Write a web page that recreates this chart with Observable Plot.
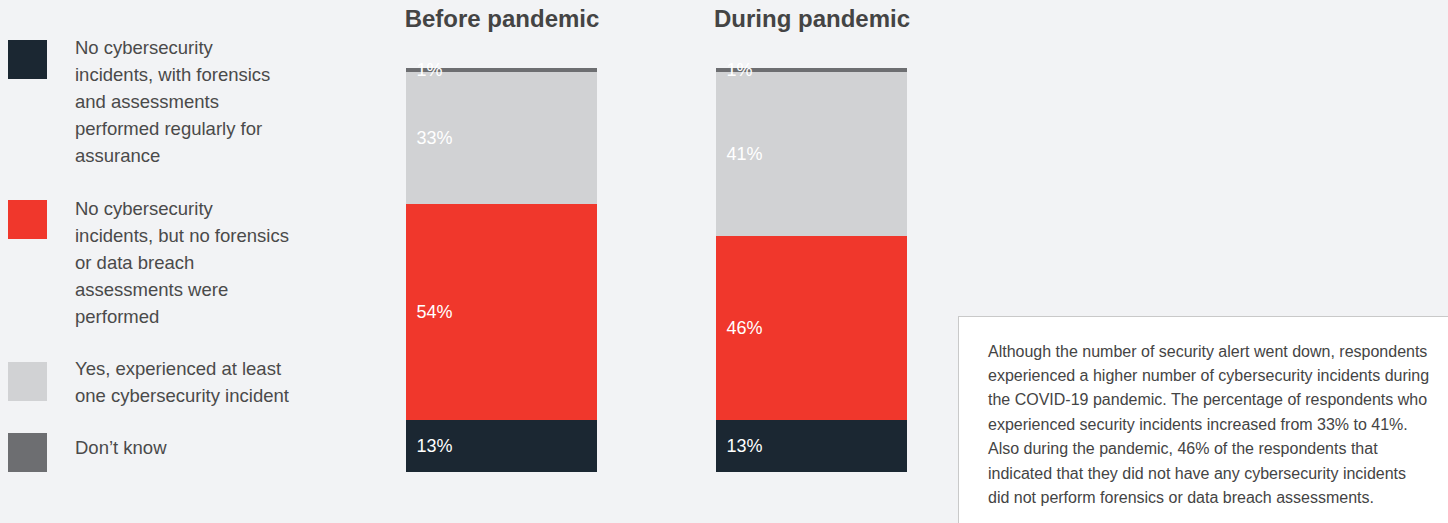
<!DOCTYPE html>
<html>
<head>
<meta charset="utf-8">
<script src="https://cdn.jsdelivr.net/npm/d3@7"></script>
<script src="https://cdn.jsdelivr.net/npm/@observablehq/plot@0.6"></script>
<style>
  html, body { margin: 0; padding: 0; background: #f2f3f5; }
  #wrap { position: relative; width: 1448px; height: 523px; overflow: hidden; font-family: "Liberation Sans", Arial, Helvetica, sans-serif; }
  #chart { position: absolute; left: 0; top: 0; }
  .sw { position: absolute; left: 8px; width: 39px; height: 39px; }
  .lt { position: absolute; left: 75px; font-size: 18.5px; line-height: 27px; color: #4a4a4a; white-space: nowrap; }
  #note { position: absolute; left: 958px; top: 316px; width: 520px; height: 260px; background: #fff; border: 1px solid #c9c9c9; box-sizing: border-box; }
  #note p { margin: 0; position: absolute; left: 29px; top: 22.5px; font-size: 16px; line-height: 24.4px; color: #444; white-space: nowrap; }
</style>
</head>
<body>
<div id="wrap">
  <div id="chart"></div>
  <div id="legend"></div>
  <div id="note"><p id="notetext"></p></div>
</div>
<script>
const periods = ["Before pandemic", "During pandemic"];
const categories = [
  "No cybersecurity incidents, with forensics and assessments performed regularly for assurance",
  "No cybersecurity incidents, but no forensics or data breach assessments were performed",
  "Yes, experienced at least one cybersecurity incident",
  "Don’t know"
];
const legendLines = [
  ["No cybersecurity", "incidents, with forensics", "and assessments", "performed regularly for", "assurance"],
  ["No cybersecurity", "incidents, but no forensics", "or data breach", "assessments were", "performed"],
  ["Yes, experienced at least", "one cybersecurity incident"],
  ["Don’t know"]
];
const colors = ["#1b2732", "#f0372c", "#d1d2d4", "#6d6e71"];
const beforeValues = [13, 54, 33, 1];
const duringValues = [13, 46, 41, 1];
const noteLines = [
  "Although the number of security alert went down, respondents",
  "experienced a higher number of cybersecurity incidents during",
  "the COVID-19 pandemic. The percentage of respondents who",
  "experienced security incidents increased from 33% to 41%.",
  "Also during the pandemic, 46% of the respondents that",
  "indicated that they did not have any cybersecurity incidents",
  "did not perform forensics or data breach assessments."
];

const data = [];
categories.forEach((c, i) => {
  data.push({period: periods[0], category: c, value: beforeValues[i]});
  data.push({period: periods[1], category: c, value: duringValues[i]});
});

const bandLeft = 406, bandRight = 907, bandInner = 0.384;
const bw = (bandRight - bandLeft) / (2 - bandInner) * (1 - bandInner);

const chart = Plot.plot({
  width: 1448,
  height: 523,
  marginTop: 68,
  marginBottom: 51,
  marginLeft: 0,
  marginRight: 0,
  style: {background: "transparent", fontFamily: "'Liberation Sans', Arial, Helvetica, sans-serif"},
  x: {type: "band", domain: periods, range: [bandLeft, bandRight], paddingInner: bandInner, paddingOuter: 0, axis: null},
  y: {domain: [0, 101], axis: null},
  color: {domain: categories, range: colors},
  marks: [
    Plot.barY(data, Plot.stackY({x: "period", y: "value", z: "category", order: categories, fill: "category"})),
    Plot.text(data, Plot.stackY({
      x: "period", y: "value", z: "category", order: categories,
      text: d => d.value + "%",
      textAnchor: "start",
      dx: -bw / 2 + 10,
      fill: "#ffffff",
      fontSize: 18
    })),
    Plot.text(periods, {
      x: d => d, text: d => d, frameAnchor: "top", lineAnchor: "middle", dy: -49,
      fontSize: 24, fontWeight: "bold", fill: "#444444"
    })
  ]
});
document.getElementById("chart").appendChild(chart);

// legend
const legend = document.getElementById("legend");
const swatchTops = [40, 200, 362, 433];
const textTops = [33.5, 194.5, 354.5, 433.5];
categories.forEach((c, i) => {
  const sw = document.createElement("div");
  sw.className = "sw";
  sw.style.top = swatchTops[i] + "px";
  sw.style.background = colors[i];
  legend.appendChild(sw);
  const t = document.createElement("div");
  t.className = "lt";
  t.style.top = textTops[i] + "px";
  t.innerHTML = legendLines[i].join("<br>");
  legend.appendChild(t);
});

document.getElementById("notetext").innerHTML = noteLines.join("<br>");
</script>
</body>
</html>
